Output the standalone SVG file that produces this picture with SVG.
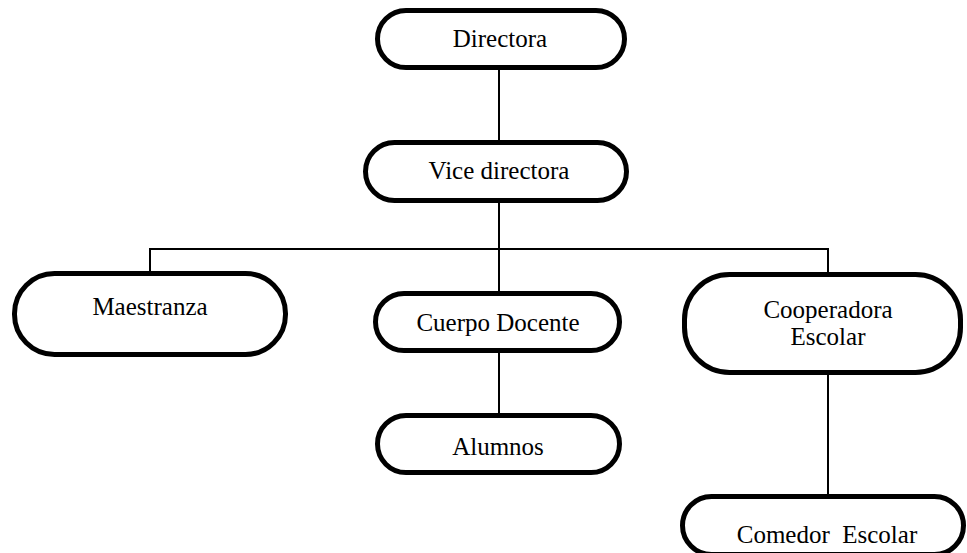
<svg xmlns="http://www.w3.org/2000/svg" width="967" height="553" viewBox="0 0 967 553">
<style>
.box{fill:#fff;stroke:#000;stroke-width:5}
.t{font-family:'Liberation Serif','DejaVu Serif',serif;font-size:25px;fill:#000;text-anchor:middle;white-space:pre}
.c{stroke:#000;stroke-width:2;fill:none}
</style>
<rect width="967" height="553" fill="#fff"/>
<g id="connectors">
<line class="c" x1="499" y1="68" x2="499" y2="142"/>
<line class="c" x1="499" y1="200" x2="499" y2="293"/>
<polyline class="c" points="150,273 150,249 828,249 828,274"/>
<line class="c" x1="499" y1="351" x2="499" y2="415"/>
<line class="c" x1="828" y1="373" x2="828" y2="496"/>
</g>
<g id="directora">
<rect class="box" x="377.5" y="10.5" width="247" height="57" rx="28.5"/>
<text class="t" x="500" y="47">Directora</text>
</g>
<g id="vice">
<rect class="box" x="365.5" y="142.5" width="261" height="58" rx="29"/>
<text class="t" x="499" y="179">Vice directora</text>
</g>
<g id="maestranza">
<rect class="box" x="14.5" y="273.5" width="271" height="81" rx="40"/>
<text class="t" x="150" y="315">Maestranza</text>
</g>
<g id="cuerpo">
<rect class="box" x="375.5" y="293.5" width="244" height="57" rx="28.5"/>
<text class="t" x="498" y="331">Cuerpo Docente</text>
</g>
<g id="cooperadora">
<rect class="box" x="684.5" y="274.5" width="276" height="98" rx="45"/>
<text class="t" x="828" y="318">Cooperadora</text>
<text class="t" x="828" y="345">Escolar</text>
</g>
<g id="alumnos">
<rect class="box" x="377.5" y="415.5" width="242" height="57" rx="28.5"/>
<text class="t" x="498" y="455">Alumnos</text>
</g>
<g id="comedor">
<rect class="box" x="682.5" y="496.5" width="281" height="58" rx="29"/>
<text class="t" x="827" y="543">Comedor  Escolar</text>
</g>
</svg>
